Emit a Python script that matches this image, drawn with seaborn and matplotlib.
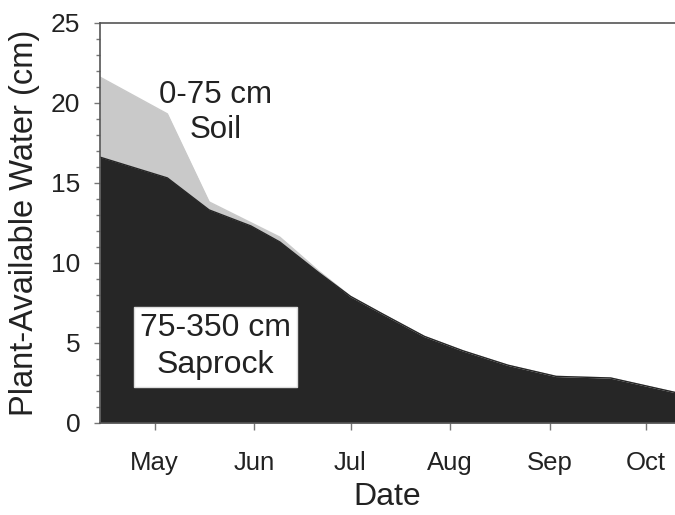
import pandas as pd
import matplotlib
matplotlib.use("Agg")
import matplotlib.pyplot as plt
from matplotlib.ticker import MultipleLocator
import seaborn as sns

# --- data ---
dates = ['2000-04-14', '2000-05-05', '2000-05-18', '2000-05-31', '2000-06-09',
         '2000-06-21', '2000-07-01', '2000-07-11', '2000-07-24', '2000-08-05',
         '2000-08-19', '2000-09-03', '2000-09-20', '2000-10-10']
saprock = [16.6, 15.3, 13.3, 12.3, 11.3, 9.4, 7.9, 6.8, 5.4, 4.5, 3.6, 2.9, 2.8, 1.9]
soil = [5.0, 4.0, 0.5, 0.2, 0.3, 0.1, 0.0, 0.0, 0.0, 0.0, 0.0, 0.0, 0.0, 0.0]

month_ticks = ['2000-05-01', '2000-06-01', '2000-07-01', '2000-08-01',
               '2000-09-01', '2000-10-01']
month_labels = ['May', 'Jun', 'Jul', 'Aug', 'Sep', 'Oct']

df = pd.DataFrame({'date': pd.to_datetime(dates), 'saprock': saprock, 'soil': soil})
df['total'] = df['saprock'] + df['soil']

sns.set_style("ticks")
plt.rcParams['font.family'] = ['Liberation Sans', 'DejaVu Sans']

dark = '#262626'
grey = '#c9c9c9'
txt = '#222222'

fig = plt.figure(figsize=(6.75, 5.15), dpi=100)
ax = fig.add_axes([0.148, 0.179, 0.852, 0.777])

# stacked areas
ax.fill_between(df['date'], df['saprock'], df['total'], color=grey, lw=0)
ax.fill_between(df['date'], 0, df['saprock'], color=dark, lw=0)
sns.lineplot(data=df, x='date', y='total', color=grey, lw=1, ax=ax)
sns.lineplot(data=df, x='date', y='saprock', color=dark, lw=1, ax=ax)

ax.set_xlim(pd.Timestamp('2000-04-14'), pd.Timestamp('2000-10-10'))
ax.set_ylim(0, 25)

ax.set_xticks(pd.to_datetime(month_ticks))
ax.set_xticklabels(month_labels)
ax.yaxis.set_major_locator(MultipleLocator(5))
ax.yaxis.set_minor_locator(MultipleLocator(1))

ax.tick_params(axis='x', length=5, width=1, color='#777777', pad=15,
               labelsize=18.5, labelcolor=txt)
ax.tick_params(axis='y', which='major', length=4, width=1, color='#777777',
               pad=10, labelsize=19, labelcolor=txt)
ax.tick_params(axis='y', which='minor', length=3, width=1, color='#777777')

for side in ['left', 'top', 'bottom']:
    ax.spines[side].set_color('#555555')
    ax.spines[side].set_linewidth(1.2)
ax.spines['right'].set_visible(False)

ax.set_xlabel('Date', fontsize=23, color=txt, labelpad=5)
ax.set_ylabel('Plant-Available Water (cm)', fontsize=23.5, color=txt, labelpad=8)

# annotations
ax.text(pd.Timestamp('2000-05-20'), 19.4, '0-75 cm\nSoil', ha='center', va='center',
        fontsize=22.5, color=txt, linespacing=1.2)
ax.text(pd.Timestamp('2000-05-20'), 4.75, '75-350 cm\nSaprock', ha='center', va='center',
        fontsize=23, color=txt, linespacing=1.3,
        bbox=dict(boxstyle='square,pad=0.2', fc='white', ec='#dddddd', lw=1))

fig.savefig('out.png', dpi=100)
